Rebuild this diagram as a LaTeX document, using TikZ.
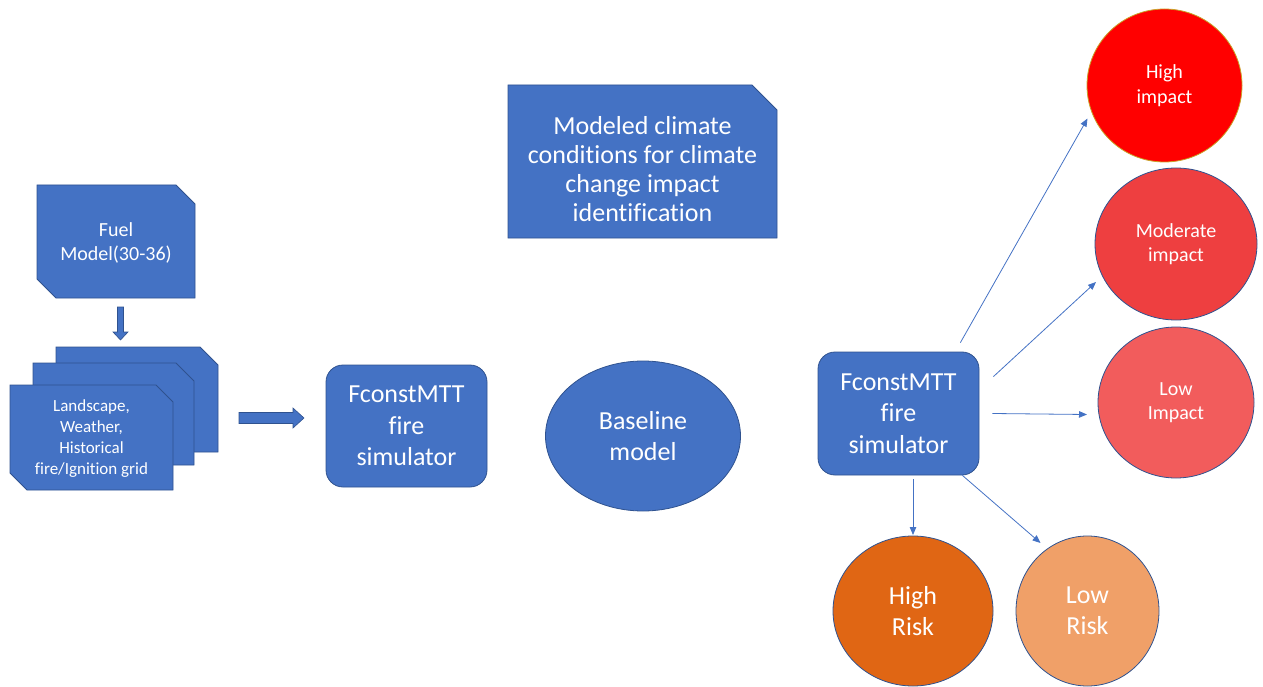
\documentclass[tikz,border=0pt]{standalone}
\usepackage{fontspec}
\setmainfont{Carlito}[Ligatures=NoCommon]
\usetikzlibrary{shapes.geometric,arrows.meta,calc}
\definecolor{pblue}{HTML}{4472C4}
\definecolor{pedge}{HTML}{2F528F}
\definecolor{cHigh}{HTML}{FF0000}
\definecolor{cHighEdge}{HTML}{C9A227}
\definecolor{cMod}{HTML}{EE3F40}
\definecolor{cLow}{HTML}{F25C5C}
\definecolor{cHR}{HTML}{E06614}
\definecolor{cLR}{HTML}{F0A068}
% snipped card: x1,y1 (top-left), x2,y2 (bottom-right), chamfer
\newcommand\snipshape[5]{%
  \filldraw[blueshape] (#1,#2) -- (#3-#5,#2) -- (#3,#2+#5) -- (#3,#4) -- (#1+#5,#4) -- (#1,#4-#5) -- cycle;}
\begin{document}
\begin{tikzpicture}[x=1pt,y=-1pt,
  blueshape/.style={fill=pblue,draw=pedge,line width=0.8pt},
  wtext/.style={text=white,align=center,inner sep=0pt},
  simbox/.style={fill=pblue,draw=pedge,line width=0.8pt,text=white,align=center,inner sep=0pt,
     rectangle,rounded corners=17pt,minimum width=161pt,minimum height=122pt,
     font=\fontsize{26}{31.7}\selectfont},
  disc/.style={ellipse,draw=pedge,line width=0.8pt,text=white,align=center,inner sep=0pt},
  conn/.style={draw=pblue,line width=0.8pt,-{Triangle[length=8pt,width=6.5pt]}}
]
\useasboundingbox (0,0) rectangle (1263,687);

% Fuel model box
\snipshape{37}{185}{195}{298}{19}
\node[wtext,font=\fontsize{20}{24.4}\selectfont] (fuel) at (116,243) {Fuel\\Model(30-36)};

% down block arrow
\filldraw[blueshape,line width=0.6pt] (117.5,307) -- (123.5,307) -- (123.5,332) -- (128,332)
  -- (120.5,340) -- (113,332) -- (117.5,332) -- cycle;

% stacked cards
\snipshape{56}{347}{218}{452}{18}
\snipshape{33}{363}{194}{465}{18}
\snipshape{10}{385}{173}{490}{17}
\node[wtext,font=\fontsize{17}{21}\selectfont] (carda) at (91.5,438.5)
  {Landscape,\\Weather,\\Historical\\fire/Ignition grid};

% right block arrow
\filldraw[blueshape,line width=0.6pt] (239,412.5) -- (293,412.5) -- (293,408) -- (304,418)
  -- (293,428) -- (293,423.5) -- (239,423.5) -- cycle;

% simulators and baseline
\node[simbox] (fs1) at (406.5,426) {FconstMTT\\fire\\simulator};
\node[disc,fill=pblue,minimum width=195pt,minimum height=150pt,font=\fontsize{26}{31.7}\selectfont]
      (base) at (643,436) {Baseline\\model};

% climate box
\filldraw[blueshape] (508,85) -- (752,85) -- (777,110) -- (777,238) -- (508,238) -- cycle;
\node[wtext,font=\fontsize{26}{29}\selectfont]
      (clim) at (642.5,169) {Modeled climate\\conditions for climate\\change impact\\identification};

\node[simbox,minimum height=123pt] (fs2) at (898.5,413.5) {FconstMTT\\fire\\simulator};

% outcome circles
\node[disc,fill=cHigh,draw=cHighEdge,minimum width=155pt,minimum height=153pt,
      font=\fontsize{20}{24.4}\selectfont] (hi) at (1164.5,85.5) {High\\impact};
\node[disc,fill=cMod,minimum width=162pt,minimum height=152pt,
      font=\fontsize{20}{24.4}\selectfont] (mod) at (1176,244) {Moderate\\impact};
\node[disc,fill=cLow,minimum width=156pt,minimum height=151pt,
      font=\fontsize{20}{24.4}\selectfont] (low) at (1176,402.5) {Low\\Impact};
\node[disc,fill=cHR,minimum width=160pt,minimum height=150pt,
      font=\fontsize{26}{31}\selectfont] (hr) at (913,611) {High\\Risk};
\node[disc,fill=cLR,minimum width=143pt,minimum height=150pt,
      font=\fontsize{26}{31}\selectfont] (lr) at (1087.5,611) {Low\\Risk};

% connectors
\draw[conn] ($(fs2.north east)+(-19,-9)$) -- ($(hi.center)+(-77,33)$);
\draw[conn] ($(fs2.north east)+(14,25)$) -- ($(mod.center)+(-80,38)$);
\draw[conn] ($(fs2.east)+(13,0)$) -- ($(low.center)+(-89,12)$);
\draw[conn] ($(fs2.south)+(14.5,4)$) -- ($(hr.center)+(0,-76)$);
\draw[conn] ($(fs2.south east)+(-17,0)$) -- ($(lr.center)+(-47,-68)$);
\end{tikzpicture}
\end{document}
